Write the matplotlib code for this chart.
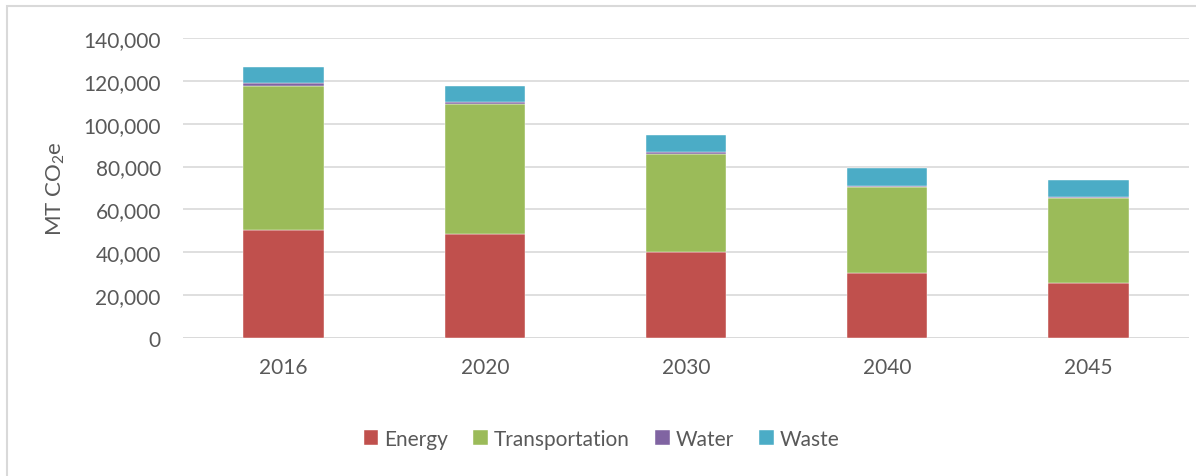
import matplotlib.pyplot as plt
from matplotlib.patches import Rectangle
from matplotlib.ticker import FuncFormatter

plt.rcParams['font.family'] = ['Lato', 'DejaVu Sans']
plt.rcParams['mathtext.fontset'] = 'custom'
plt.rcParams['mathtext.rm'] = 'Lato'
plt.rcParams['mathtext.it'] = 'Lato:italic'

years = ['2016', '2020', '2030', '2040', '2045']
energy = [50400, 48500, 40000, 30200, 25500]
transportation = [67400, 60700, 45900, 40400, 40000]
water = [1200, 800, 800, 150, 250]
waste = [7500, 7800, 8000, 8400, 8200]

series = [('Energy', energy, '#C0504D'),
          ('Transportation', transportation, '#9BBB59'),
          ('Water', water, '#8064A2'),
          ('Waste', waste, '#4BACC6')]

TEXT = '#595959'
GRID = '#D9D9D9'

fig = plt.figure(figsize=(11.96, 4.77), dpi=100)
ax = fig.add_axes([183/1196, 1 - 339/477, (1189 - 183)/1196, 300/477])

# outer chart frame, partly cut off at right/bottom like the reference
fig.patches.append(Rectangle((7/1196, -0.1), 1.2, 1 - 7/477 + 0.1,
                             transform=fig.transFigure, fill=False,
                             edgecolor=GRID, linewidth=1.5))

x = range(len(years))
bottom = [0] * len(years)
for name, vals, color in series:
    ax.bar(x, vals, width=0.4, bottom=bottom, color=color, label=name,
           edgecolor='white', linewidth=0.3, zorder=3)
    bottom = [b + v for b, v in zip(bottom, vals)]

ax.set_xlim(-0.5, len(years) - 0.5)
ax.set_ylim(0, 140000)
ax.set_yticks(range(0, 140001, 20000))
ax.yaxis.set_major_formatter(FuncFormatter(lambda v, p: f'{int(v):,}'))
ax.set_xticks(list(x))
ax.set_xticklabels(years)
ax.tick_params(axis='both', length=0, labelsize=15, colors=TEXT, pad=16)
ax.tick_params(axis='x', pad=14)
ax.grid(axis='y', color=GRID, linewidth=1.2, zorder=0)
for s in ax.spines.values():
    s.set_visible(False)
ax.axhline(0, color=GRID, linewidth=1.2, zorder=2)

ax.set_ylabel(r'MT CO$_2$e', fontsize=16, color=TEXT, labelpad=12)

fig.legend(loc='center', bbox_to_anchor=(0.503, 1 - 440/477), ncol=4,
           frameon=False, fontsize=15, labelcolor=TEXT,
           handlelength=0.7, handleheight=0.7, handletextpad=0.3,
           columnspacing=1.2)

fig.savefig('out.png', dpi=100)
